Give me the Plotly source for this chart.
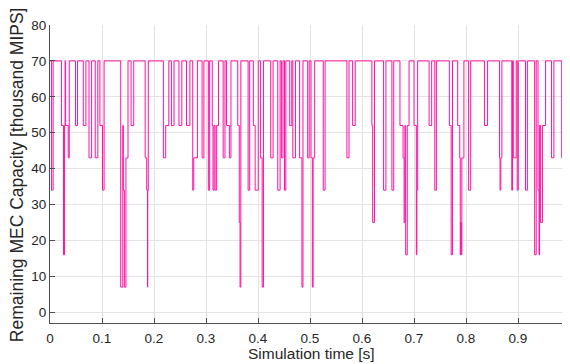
import plotly.graph_objects as go

# Step-change times [s] and remaining capacity [thousand MIPS] after each change
change_times = [
    0.000, 0.003, 0.006, 0.022, 0.026, 0.028, 0.029, 0.030, 0.035, 0.037,
    0.049, 0.053, 0.064, 0.069, 0.075, 0.080, 0.087, 0.092, 0.096, 0.101,
    0.104, 0.136, 0.140, 0.141, 0.143, 0.146, 0.150, 0.156, 0.161, 0.183,
    0.186, 0.1875, 0.188, 0.189, 0.218, 0.2225, 0.2285, 0.2335, 0.2385, 0.248,
    0.2535, 0.2625, 0.269, 0.2745, 0.2765, 0.2835, 0.2925, 0.296, 0.3045, 0.307,
    0.312, 0.3135, 0.3155, 0.3175, 0.3205, 0.324, 0.333, 0.3365, 0.3395, 0.345,
    0.348, 0.361, 0.364, 0.3655, 0.367, 0.381, 0.384, 0.391, 0.3945, 0.4005,
    0.405, 0.408, 0.4105, 0.4245, 0.429, 0.438, 0.4425, 0.445, 0.448, 0.451,
    0.4535, 0.461, 0.465, 0.467, 0.472, 0.480, 0.4845, 0.4865, 0.4955, 0.4985,
    0.502, 0.5045, 0.506, 0.509, 0.5255, 0.529, 0.571, 0.575, 0.582, 0.587,
    0.619, 0.6205, 0.624, 0.6415, 0.646, 0.6575, 0.661, 0.673, 0.679, 0.681,
    0.6825, 0.684, 0.687, 0.6905, 0.700, 0.7045, 0.7055, 0.707, 0.729, 0.734,
    0.740, 0.743, 0.768, 0.7715, 0.774, 0.784, 0.788, 0.789, 0.790, 0.791,
    0.792, 0.796, 0.805, 0.809, 0.8355, 0.8415, 0.8645, 0.8655, 0.867, 0.869,
    0.888, 0.8895, 0.891, 0.8965, 0.8985, 0.9005, 0.9145, 0.918, 0.932, 0.935,
    0.9385, 0.9405, 0.9415, 0.9435, 0.947, 0.953, 0.9645, 0.969, 0.984, 0.988,
    1.000,
]
capacity_values = [
    70, 34, 70, 52, 16, 52, 70, 52, 43, 70,
    52, 70, 52, 70, 43, 70, 43, 70, 52, 34,
    70, 7, 52, 34, 7, 43, 70, 52, 70, 43,
    34, 7, 34, 70, 43, 52, 70, 52, 70, 52,
    70, 52, 70, 34, 43, 70, 43, 70, 34, 70,
    52, 34, 52, 34, 52, 70, 43, 70, 52, 43,
    70, 52, 25, 7, 70, 34, 70, 52, 34, 70,
    43, 7, 70, 43, 70, 34, 70, 43, 70, 34,
    70, 52, 70, 43, 70, 43, 7, 70, 43, 70,
    43, 7, 43, 70, 34, 70, 43, 70, 52, 70,
    52, 25, 70, 34, 70, 34, 70, 52, 43, 25,
    52, 16, 52, 70, 52, 16, 34, 70, 52, 70,
    34, 70, 52, 16, 70, 52, 43, 16, 25, 16,
    43, 70, 34, 70, 52, 70, 43, 34, 43, 70,
    34, 70, 43, 70, 34, 70, 34, 70, 16, 70,
    34, 16, 52, 25, 52, 70, 43, 70, 43, 70,
    70,
]

x_ticks = [0, 0.1, 0.2, 0.3, 0.4, 0.5, 0.6, 0.7, 0.8, 0.9, 1]
x_tick_labels = ["0", "0.1", "0.2", "0.3", "0.4", "0.5", "0.6", "0.7", "0.8", "0.9", "1"]
y_ticks = [0, 10, 20, 30, 40, 50, 60, 70, 80]
y_tick_labels = ["0", "10", "20", "30", "40", "50", "60", "70", "80"]

x_title = "Simulation time [s]"
y_title = "Remaining MEC Capacity [thousand MIPS]"

FONT = "Liberation Sans, Arial, Helvetica, sans-serif"
TXT = "#262626"
AX = "#4d4d4d"
GRID = "#e3e3e3"

fig = go.Figure()
fig.add_trace(go.Scatter(
    x=change_times, y=capacity_values, mode="lines",
    line=dict(shape="hv", color="#ff12a2", width=1),
    hoverinfo="skip", showlegend=False,
))

# the page body adds an 8px offset, so the figure is sized/margined to compensate
fig.update_layout(
    width=562, height=356,
    margin=dict(l=42, r=0, t=17, b=41, pad=0),
    paper_bgcolor="white", plot_bgcolor="white",
    font=dict(family=FONT, color=TXT, size=13),
    xaxis=dict(
        range=[0, 1], tickvals=x_ticks, ticktext=x_tick_labels, automargin=False,
        ticks="inside", ticklen=5, tickcolor=AX, showline=True, linecolor=AX, linewidth=1,
        showgrid=True, gridcolor=GRID, gridwidth=1, zeroline=False,
        ticklabelstandoff=3,
        tickfont=dict(family=FONT, size=13.5, color=TXT),
    ),
    yaxis=dict(
        range=[-3, 80], tickvals=y_ticks, ticktext=y_tick_labels, automargin=False,
        ticks="inside", ticklen=5, tickcolor=AX, showline=True, linecolor=AX, linewidth=1,
        mirror="ticks",
        showgrid=True, gridcolor=GRID, gridwidth=1, zeroline=False,
        tickfont=dict(family=FONT, size=13.5, color=TXT),
    ),
    annotations=[
        dict(text=x_title, xref="paper", yref="paper", x=0.503, y=-0.104,
             xanchor="center", yanchor="middle", showarrow=False,
             font=dict(family=FONT, size=15.5, color=TXT)),
        dict(text=y_title, xref="paper", yref="paper", x=-0.063, y=0.497,
             xanchor="center", yanchor="middle", showarrow=False, textangle=-90,
             font=dict(family=FONT, size=17.5, color=TXT)),
    ],
)

fig.write_html("out.html")
